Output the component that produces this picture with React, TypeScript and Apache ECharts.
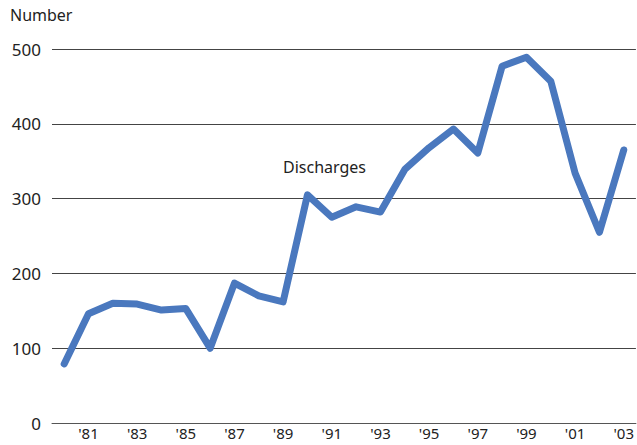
import React, { useEffect, useRef } from "react";
import * as echarts from "echarts";

const years = [
  "1980", "1981", "1982", "1983", "1984", "1985", "1986", "1987", "1988", "1989",
  "1990", "1991", "1992", "1993", "1994", "1995", "1996", "1997", "1998", "1999",
  "2000", "2001", "2002", "2003",
];
const discharges = [
  79, 146, 160, 159, 151, 153, 100, 187, 170, 162,
  305, 275, 289, 282, 339, 368, 393, 361, 477, 489,
  457, 334, 255, 365,
];
const yTicks = [0, 100, 200, 300, 400, 500];
const seriesName = "Discharges";
const yTitle = "Number";

const FONT = "'Noto Sans', sans-serif";

export default function App() {
  const ref = useRef<HTMLDivElement>(null);
  useEffect(() => {
    if (!ref.current) return;
    const chart = echarts.init(ref.current, undefined, { renderer: "svg" });
    chart.setOption({
      animation: false,
      backgroundColor: "#ffffff",
      grid: { left: 52, right: 0, top: 49, bottom: 22, containLabel: false },
      xAxis: {
        type: "category",
        data: years,
        boundaryGap: true,
        axisLine: { show: true, lineStyle: { color: "#555", width: 1 } },
        axisTick: { show: false },
        axisLabel: {
          interval: 0,
          formatter: (v: string, i: number) => (i % 2 === 1 ? "'" + v.slice(2) : ""),
          fontFamily: FONT,
          fontSize: 15,
          lineHeight: 15,
          color: "#222",
          margin: 2,
        },
        splitLine: { show: false },
      },
      yAxis: {
        type: "value",
        min: yTicks[0],
        max: yTicks[yTicks.length - 1],
        interval: 100,
        axisLine: { show: false },
        axisTick: { show: false },
        axisLabel: {
          fontFamily: FONT,
          fontSize: 17,
          color: "#222",
          margin: 11,
        },
        splitLine: { show: true, lineStyle: { color: "#444", width: 1 } },
      },
      graphic: [
        {
          type: "text",
          left: 10,
          top: 7,
          style: { text: yTitle, fontFamily: FONT, fontSize: 16, fill: "#222" },
        },
        {
          type: "text",
          left: 283,
          top: 159,
          style: { text: seriesName, fontFamily: FONT, fontSize: 16, fill: "#222" },
        },
      ],
      series: [
        {
          type: "line",
          name: seriesName,
          data: discharges,
          showSymbol: false,
          symbol: "none",
          lineStyle: { color: "#4a78be", width: 7, cap: "round", join: "round" },
        },
      ],
    });
    return () => chart.dispose();
  }, []);
  return <div ref={ref} style={{ width: 637, height: 445, position: "absolute", left: 0, top: 0 }} />;
}
